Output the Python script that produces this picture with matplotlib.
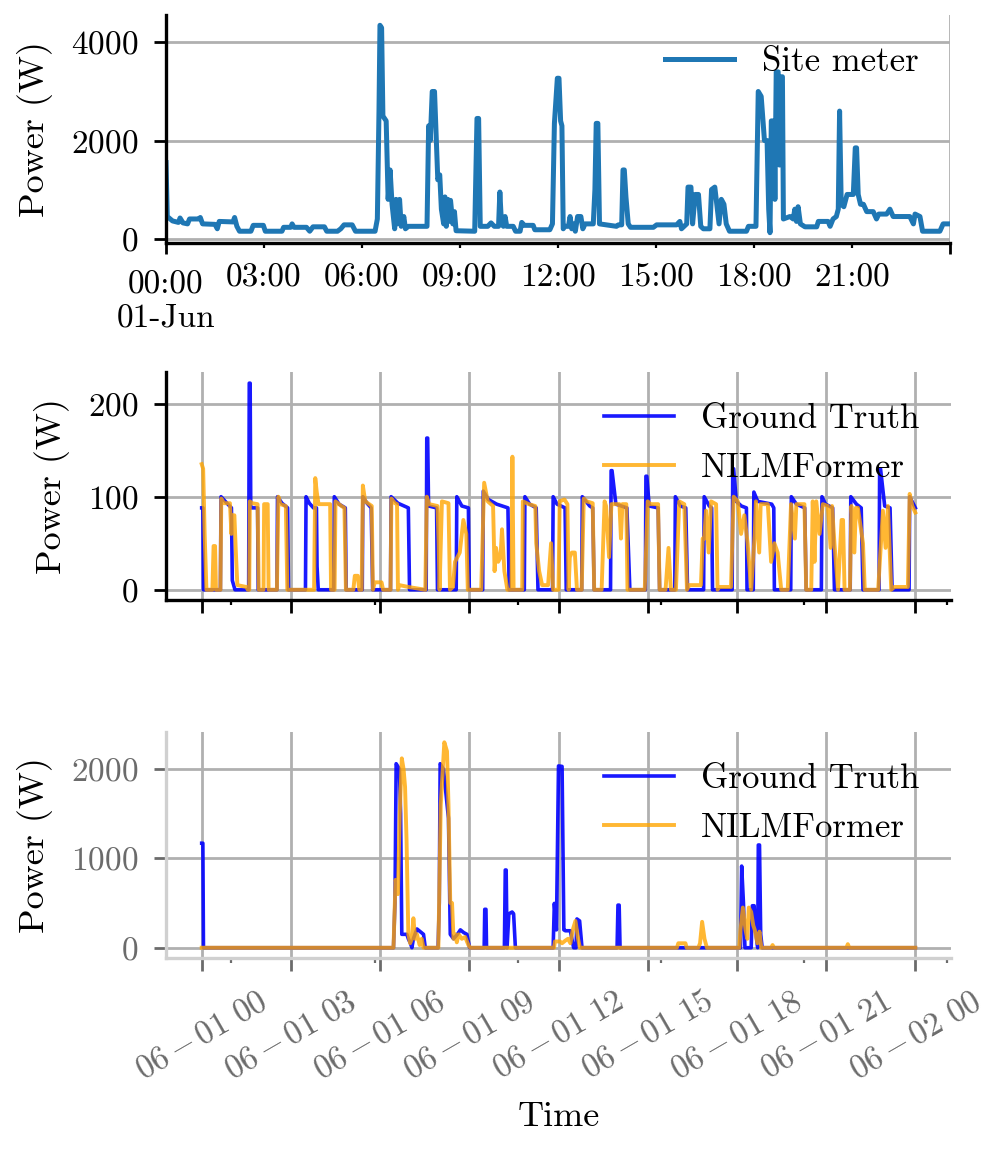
import matplotlib
matplotlib.use('Agg')
import matplotlib.pyplot as plt
from matplotlib.ticker import FixedLocator, FixedFormatter, NullFormatter

plt.rcParams['font.family'] = ['cmr10', 'DejaVu Serif']
plt.rcParams['mathtext.fontset'] = 'cm'
plt.rcParams['axes.unicode_minus'] = False
plt.rcParams['axes.formatter.use_mathtext'] = True

# ---------------- data (hours since 2016-06-01 00:00, watts) ----------------
site_hours = [0.00, 0.04, 0.20, 0.38, 0.43, 0.52, 0.66, 0.72, 1.00, 1.05, 1.12, 1.50, 1.57, 1.63, 2.05, 2.10,
              2.17, 2.25, 2.60, 2.67, 2.98, 3.04, 3.55, 3.60, 3.82, 3.86, 3.92, 4.30, 4.40, 4.50, 4.85, 4.92,
              5.25, 5.35, 5.45, 5.70, 5.80, 6.40, 6.47, 6.52, 6.55, 6.60, 6.64, 6.74, 6.80, 6.86, 6.92, 7.00,
              7.04, 7.08, 7.15, 7.20, 7.28, 7.33, 7.42, 7.99, 8.04, 8.09, 8.15, 8.22, 8.27, 8.32, 8.38, 8.43,
              8.50, 8.54, 8.58, 8.63, 8.67, 8.71, 8.78, 8.83, 8.88, 9.45, 9.52, 9.57, 9.62, 9.85, 9.95, 10.05,
              10.18, 10.22, 10.27, 10.33, 10.38, 10.43, 10.63, 10.70, 10.84, 10.89, 10.97, 11.24, 11.29, 11.75,
              11.83, 11.89, 11.98, 12.03, 12.08, 12.12, 12.16, 12.21, 12.32, 12.37, 12.42, 12.47, 12.53, 12.60,
              12.70, 12.76, 12.83, 13.08, 13.13, 13.17, 13.22, 13.27, 13.79, 13.85, 13.95, 13.99, 14.03, 14.08,
              14.15, 14.22, 14.92, 15.02, 15.63, 15.73, 15.78, 15.94, 15.98, 16.07, 16.12, 16.20, 16.30, 16.37,
              16.45, 16.65, 16.70, 16.80, 16.86, 16.93, 17.00, 17.08, 17.15, 17.25, 17.77, 17.83, 18.06, 18.13,
              18.22, 18.32, 18.40, 18.45, 18.49, 18.53, 18.61, 18.64, 18.68, 18.74, 18.78, 18.82, 18.87, 18.90,
              19.10, 19.20, 19.25, 19.30, 19.35, 19.42, 19.56, 19.92, 19.97, 20.27, 20.33, 20.42, 20.52, 20.58,
              20.62, 20.67, 20.75, 20.85, 21.04, 21.10, 21.14, 21.19, 21.26, 21.35, 21.45, 21.65, 21.75, 21.82,
              22.06, 22.16, 22.26, 22.77, 22.88, 22.93, 23.08, 23.16, 23.69, 23.79, 23.98]
site_watts = [1550, 450, 360, 330, 420, 320, 300, 400, 400, 430, 300, 290, 200, 350, 340, 430,
              250, 150, 150, 270, 270, 150, 150, 230, 230, 300, 230, 230, 150, 240, 240, 150,
              150, 200, 280, 280, 150, 150, 400, 2600, 4350, 4300, 2500, 2400, 800, 1400, 700, 200,
              800, 300, 800, 250, 450, 200, 250, 250, 2300, 2000, 3000, 3000, 2100, 1200, 1300, 600,
              300, 850, 250, 800, 350, 780, 300, 550, 160, 150, 2450, 2450, 250, 250, 320, 250,
              250, 950, 300, 250, 450, 250, 250, 150, 150, 330, 270, 270, 180, 180,
              300, 2350, 3270, 3270, 2400, 2300, 200, 250, 250, 450, 200, 300, 150, 450,
              450, 200, 300, 300, 1000, 2350, 2350, 300, 250, 280, 280, 1400, 1400, 850,
              300, 230, 230, 280, 280, 350, 200, 300, 1050, 1050, 300, 900, 900, 250,
              200, 200, 1000, 1050, 700, 300, 800, 700, 300, 150, 150, 250, 250, 3000,
              2900, 2000, 2000, 600, 120, 2400, 2400, 800, 3400, 3400, 1500, 3300, 3300, 400,
              450, 400, 600, 350, 650, 300, 240, 240, 350, 350, 250, 400, 450, 600,
              2600, 700, 650, 900, 900, 1850, 1850, 900, 700, 700, 550, 550, 400, 500,
              500, 600, 450, 450, 300, 500, 450, 150, 150, 300, 300]

fridge_gt_hours = [0.00, 0.04, 0.06, 0.63, 0.65, 0.85, 1.00, 1.03, 1.12, 1.58, 1.60, 1.63, 1.65, 1.88, 1.90,
                   2.53, 2.55, 2.70, 2.89, 2.92, 3.49, 3.51, 3.62, 3.76, 3.86, 3.88, 3.92,
                   4.44, 4.46, 4.62, 4.83, 4.86, 5.40, 5.42, 5.56, 5.70, 5.75, 6.35, 6.37, 6.60, 6.95, 6.99,
                   7.55, 7.57, 7.60, 7.63, 7.90, 7.93, 8.56, 8.58, 8.75, 8.97, 9.00,
                   9.45, 9.47, 9.64, 9.92, 10.30, 10.34, 10.85, 10.87, 11.03, 11.25, 11.31,
                   11.80, 11.82, 11.95, 12.22, 12.26, 12.78, 12.80, 13.05, 13.15, 13.20,
                   13.75, 13.77, 13.80, 13.93, 14.30, 14.40, 14.92, 14.94, 14.97, 15.05, 15.35, 15.40,
                   15.91, 15.93, 16.10, 16.28, 16.34, 16.88, 16.90, 17.07, 17.15, 17.18,
                   17.84, 17.86, 17.89, 17.98, 18.15, 18.32, 18.34, 18.55, 18.57, 18.70, 19.17, 19.24, 19.26,
                   19.81, 19.83, 20.00, 20.28, 20.33, 20.84, 20.86, 20.98, 21.22, 21.28,
                   21.81, 21.83, 22.02, 22.18, 22.24, 22.78, 22.80, 22.83, 22.97, 23.15, 23.22,
                   23.79, 23.81, 24.00]
fridge_gt_watts = [88, 88, 0, 0, 100, 93, 88, 10, 0, 0, 222, 222, 88, 88, 0,
                   0, 100, 93, 88, 0, 0, 100, 93, 88, 88, 25, 0,
                   0, 100, 92, 88, 0, 0, 100, 93, 88, 0, 0, 100, 93, 88, 0,
                   0, 163, 163, 90, 88, 0, 0, 100, 90, 88, 0,
                   0, 106, 97, 92, 88, 0, 0, 100, 92, 88, 0,
                   0, 100, 92, 88, 0, 0, 100, 90, 88, 0,
                   0, 128, 128, 92, 88, 0, 0, 122, 122, 90, 88, 0,
                   0, 100, 90, 88, 0, 0, 100, 90, 88, 0,
                   0, 130, 130, 95, 90, 88, 0, 0, 105, 95, 92, 88, 0,
                   0, 100, 92, 88, 0, 0, 100, 92, 88, 0,
                   0, 100, 92, 88, 0, 0, 130, 130, 90, 88, 0,
                   0, 100, 88]

fridge_nf_hours = [0.00, 0.05, 0.10, 0.16, 0.36, 0.40, 0.45, 0.48, 0.63, 0.66, 0.75, 0.95, 1.00, 1.03, 1.10,
                   1.15, 1.20, 1.50, 1.55, 1.60, 1.62, 1.70, 1.88, 1.92, 2.08, 2.10, 2.22, 2.25,
                   2.53, 2.58, 2.65, 2.83, 2.88, 3.78, 3.82, 3.87, 3.93, 4.32, 4.35,
                   4.47, 4.50, 4.70, 4.80, 4.85, 5.10, 5.15, 5.25, 5.30, 5.38, 5.42, 5.50, 5.72, 5.76,
                   5.82, 6.05, 6.10, 6.35, 6.38, 6.50, 6.57, 6.60, 6.65, 6.95, 7.52, 7.57, 7.65, 7.93,
                   7.97, 8.00, 8.08, 8.30, 8.35, 8.45, 8.52, 8.68, 8.80, 8.90, 8.95,
                   9.40, 9.50, 9.62, 9.80, 9.85, 9.90, 9.97, 10.05, 10.10, 10.18, 10.28, 10.42, 10.45, 10.49,
                   10.78, 10.80, 11.00, 11.22, 11.25, 11.35, 11.45, 11.65, 11.75, 11.82,
                   12.00, 12.04, 12.20, 12.30, 12.34, 12.38, 12.45, 12.55, 12.62,
                   12.78, 12.85, 12.95, 13.15, 13.20, 13.45, 13.55, 13.60, 13.70, 13.78, 14.05, 14.10, 14.15,
                   14.28, 14.32, 14.90, 15.00, 15.10, 15.35, 15.40, 15.60, 15.70, 15.78, 15.95,
                   16.06, 16.23, 16.32, 16.40, 16.79, 16.85, 16.90, 16.96, 17.05, 17.13, 17.30, 17.35,
                   17.41, 17.80, 17.89, 18.03, 18.14, 18.25, 18.36, 18.48, 18.60, 18.64, 18.75, 18.80,
                   18.87, 19.04, 19.15, 19.26, 19.37, 19.49, 19.71, 19.82, 19.95, 20.00, 20.05, 20.27, 20.33,
                   20.50, 20.55, 20.61, 20.67, 20.78, 20.89, 21.06, 21.15, 21.20, 21.28, 21.40, 21.52, 21.57,
                   21.62, 21.80, 21.85, 21.95, 22.00, 22.07, 22.24, 22.30, 22.75, 22.91, 23.00, 23.08, 23.19,
                   23.30, 23.75, 23.81, 23.90, 24.00]
fridge_nf_watts = [135, 130, 60, 0, 0, 47, 47, 0, 0, 98, 93, 93, 60, 80, 80,
                   40, 5, 3, 0, 0, 95, 93, 92, 0, 0, 92, 92, 0,
                   0, 100, 92, 90, 0, 0, 120, 105, 92, 92, 0,
                   0, 95, 90, 88, 0, 0, 15, 15, 0, 0, 112, 95, 90, 0,
                   8, 8, 0, 0, 98, 93, 92, 0, 5, 3, 0, 100, 92, 90,
                   50, 0, 95, 93, 0, 3, 30, 40, 75, 60, 0,
                   0, 115, 95, 90, 20, 45, 30, 35, 65, 20, 0, 0, 143, 0,
                   0, 95, 92, 90, 50, 20, 5, 5, 50, 0,
                   0, 95, 97, 92, 0, 35, 40, 40, 0,
                   0, 98, 95, 93, 0, 0, 95, 90, 35, 92, 92, 55, 92,
                   92, 0, 0, 95, 92, 92, 0, 0, 45, 0, 0,
                   95, 92, 0, 5, 5, 55, 55, 85, 40, 95, 92, 0,
                   3, 3, 100, 95, 60, 80, 50, 0, 60, 95, 40, 92,
                   92, 92, 30, 50, 40, 0, 0, 92, 55, 92, 92, 92, 0,
                   0, 95, 30, 95, 60, 92, 90, 45, 90, 50, 0, 75, 75,
                   0, 0, 90, 40, 88, 88, 50, 0, 0, 85, 45, 90, 0,
                   3, 3, 103, 90, 83]

wash_gt_hours = [0.00, 0.04, 0.06, 6.45, 6.50, 6.54, 6.65, 6.69, 6.73, 6.90, 6.95, 7.02, 7.07, 7.12, 7.24,
                 7.35, 7.46, 7.52, 7.95, 7.99, 8.02, 8.13, 8.30, 8.36, 8.47, 8.60, 8.70, 8.81, 8.92, 9.01,
                 9.50, 9.52, 9.56, 9.58, 10.18, 10.21, 10.24, 10.27, 10.33, 10.44, 10.49, 10.55,
                 11.82, 11.86, 11.93, 12.00, 12.12, 12.18, 12.23, 12.40, 12.46, 12.51, 12.59, 12.62, 12.71, 12.79,
                 13.97, 14.00, 14.04, 14.07, 18.12, 18.16, 18.22, 18.27, 18.48, 18.52, 18.58, 18.62, 18.70,
                 18.72, 18.76, 18.80, 18.85, 24.00]
wash_gt_watts = [1170, 1170, 0, 0, 500, 2060, 2000, 1500, 150, 150, 100, 50, 0, 100, 210,
                 180, 150, 0, 0, 500, 2060, 2000, 1450, 150, 100, 150, 200, 170, 150, 0,
                 0, 430, 430, 0, 0, 870, 870, 0, 380, 400, 380, 0,
                 0, 496, 200, 2035, 2030, 200, 190, 190, 80, 0, 0, 322, 300, 0,
                 0, 477, 477, 0, 0, 914, 500, 0, 0, 470, 470, 200, 0,
                 1150, 1150, 150, 0, 0]

wash_nf_hours = [0.00, 6.45, 6.52, 6.60, 6.66, 6.73, 6.79, 6.84, 6.89, 6.95, 7.01, 7.07, 7.12, 7.18, 7.24,
                 7.33, 7.40, 7.46, 7.96, 8.04, 8.16, 8.25, 8.30, 8.36, 8.42, 8.47, 8.53, 8.58, 8.64, 8.75,
                 8.86, 8.97, 9.03, 11.85, 11.88, 12.05, 12.12, 12.23, 12.32, 12.40, 12.48, 12.57, 12.66, 12.72,
                 15.98, 16.03, 16.27, 16.31, 16.70, 16.76, 16.83, 16.91, 16.99, 18.08, 18.12, 18.20, 18.29,
                 18.35, 18.40, 18.48, 18.55, 18.60, 18.69, 18.76, 18.82, 19.15, 19.20, 19.25,
                 21.68, 21.73, 21.78, 24.00]
wash_nf_watts = [0, 0, 760, 600, 1500, 2120, 2000, 1800, 1200, 150, 50, 100, 330, 100, 150,
                 30, 100, 0, 0, 1600, 2300, 2200, 1600, 500, 500, 100, 150, 60, 150, 100,
                 120, 30, 0, 0, 70, 70, 50, 80, 100, 50, 200, 300, 100, 0,
                 0, 50, 50, 0, 0, 50, 290, 100, 0, 0, 200, 450, 200,
                 100, 450, 400, 250, 200, 50, 180, 0, 0, 30, 0,
                 0, 40, 0, 0]

top_major_hours = [0, 24]
top_major_labels = ['00:00\n01-Jun', '']
top_minor_hours = [3, 6, 9, 12, 15, 18, 21]
top_minor_labels = ['03:00', '06:00', '09:00', '12:00', '15:00', '18:00', '21:00']
date_tick_hours = [0, 3, 6, 9, 12, 15, 18, 21, 24]
date_tick_labels = [r'$\mathrm{06}\,{-}\,\mathrm{01\ 00}$', r'$\mathrm{06}\,{-}\,\mathrm{01\ 03}$',
                    r'$\mathrm{06}\,{-}\,\mathrm{01\ 06}$', r'$\mathrm{06}\,{-}\,\mathrm{01\ 09}$',
                    r'$\mathrm{06}\,{-}\,\mathrm{01\ 12}$', r'$\mathrm{06}\,{-}\,\mathrm{01\ 15}$',
                    r'$\mathrm{06}\,{-}\,\mathrm{01\ 18}$', r'$\mathrm{06}\,{-}\,\mathrm{01\ 21}$',
                    r'$\mathrm{06}\,{-}\,\mathrm{02\ 00}$']
date_minor_hours = [1.0, 5.83, 10.63, 15.44, 20.25, 25.05]

# ---------------- figure ----------------
W, H = 1001, 1149
fig = plt.figure(figsize=(W / 100, H / 100), dpi=100)

def axes_px(left, top, right, bottom):
    return fig.add_axes([left / W, 1 - bottom / H, (right - left) / W, (bottom - top) / H])

TICK_FS = 24
LAB_FS = 26
LEG_FS = 25
PAD = 11.5
LPAD = 13
GRID_KW = dict(color='#b0b0b0', linewidth=2.0)
GRAY = '#6b6b6b'

# ---- top panel: site meter ----
ax1 = axes_px(166, 15, 950, 243)
ax1.plot(site_hours, site_watts, color='#1f77b4', linewidth=3.6, label='Site meter')
ax1.set_xlim(0, 24)
ax1.set_ylim(-90, 4560)
ax1.set_yticks([0, 2000, 4000])
ax1.xaxis.set_major_locator(FixedLocator(top_major_hours))
ax1.xaxis.set_major_formatter(FixedFormatter(top_major_labels))
ax1.xaxis.set_minor_locator(FixedLocator(top_minor_hours))
ax1.xaxis.set_minor_formatter(FixedFormatter(top_minor_labels))
ax1.grid(True, which='major', axis='both', **GRID_KW)
ax1.set_axisbelow(True)
for s in ['top', 'right']:
    ax1.spines[s].set_visible(False)
for s in ['left', 'bottom']:
    ax1.spines[s].set_linewidth(2.4)
ax1.tick_params(axis='y', which='major', length=8.5, width=2.0, labelsize=TICK_FS, pad=PAD)
ax1.tick_params(axis='x', which='major', length=8, width=2.0, labelsize=TICK_FS, pad=PAD)
ax1.tick_params(axis='x', which='minor', length=3.5, width=1.6, labelsize=TICK_FS, pad=PAD)
ax1.set_ylabel('Power (W)', fontsize=LAB_FS, labelpad=LPAD)
ax1.legend(loc='upper right', frameon=False, fontsize=LEG_FS, handlelength=2.0)

# ---- middle panel: fridge ----
ax2 = axes_px(166, 372, 951, 600)
ax2.plot(fridge_gt_hours, fridge_gt_watts, color='blue', alpha=0.9, linewidth=2.6, label='Ground Truth')
ax2.plot(fridge_nf_hours, fridge_nf_watts, color='orange', alpha=0.8, linewidth=2.8, label='NILMFormer')
ax2.set_xlim(-1.2, 25.2)
ax2.set_ylim(-11, 234)
ax2.set_yticks([0, 100, 200])
ax2.xaxis.set_major_locator(FixedLocator(date_tick_hours))
ax2.xaxis.set_minor_locator(FixedLocator(date_minor_hours))
ax2.xaxis.set_minor_formatter(NullFormatter())
ax2.grid(True, which='major', **GRID_KW)
ax2.set_axisbelow(True)
for s in ['top', 'right']:
    ax2.spines[s].set_visible(False)
for s in ['left', 'bottom']:
    ax2.spines[s].set_linewidth(2.4)
ax2.tick_params(axis='y', which='major', length=8.5, width=2.0, labelsize=TICK_FS, pad=PAD)
ax2.tick_params(axis='x', which='major', length=9, width=2.0, labelbottom=False)
ax2.tick_params(axis='x', which='minor', length=3.5, width=1.6)
ax2.set_ylabel('Power (W)', fontsize=LAB_FS, labelpad=LPAD)
ax2.legend(loc='upper right', frameon=False, fontsize=LEG_FS, handlelength=2.0)

# ---- bottom panel: washing machine ----
ax3 = axes_px(166, 732, 951, 958)
ax3.plot(wash_gt_hours, wash_gt_watts, color='blue', alpha=0.9, linewidth=2.6, label='Ground Truth')
ax3.plot(wash_nf_hours, wash_nf_watts, color='orange', alpha=0.8, linewidth=2.8, label='NILMFormer')
ax3.set_xlim(-1.2, 25.2)
ax3.set_ylim(-115, 2415)
ax3.set_yticks([0, 1000, 2000])
ax3.xaxis.set_major_locator(FixedLocator(date_tick_hours))
ax3.xaxis.set_major_formatter(FixedFormatter(date_tick_labels))
ax3.xaxis.set_minor_locator(FixedLocator(date_minor_hours))
ax3.xaxis.set_minor_formatter(NullFormatter())
ax3.grid(True, which='major', **GRID_KW)
ax3.set_axisbelow(True)
for s in ['top', 'right']:
    ax3.spines[s].set_visible(False)
for s in ['left', 'bottom']:
    ax3.spines[s].set_linewidth(2.4)
    ax3.spines[s].set_color('#d0d0d0')
ax3.tick_params(axis='y', which='major', length=8.5, width=2.0, labelsize=TICK_FS,
                color=GRAY, labelcolor=GRAY, pad=PAD)
ax3.tick_params(axis='x', which='major', length=9, width=2.0, labelsize=TICK_FS,
                color=GRAY, labelcolor=GRAY, pad=PAD)
ax3.tick_params(axis='x', which='minor', length=3.5, width=1.6, color=GRAY)
for lab in ax3.get_xticklabels():
    lab.set_rotation(30)
    lab.set_ha('center')
ax3.set_ylabel('Power (W)', fontsize=LAB_FS, labelpad=LPAD)
ax3.set_xlabel('Time', fontsize=LAB_FS, labelpad=12)
ax3.legend(loc='upper right', frameon=False, fontsize=LEG_FS, handlelength=2.0)

fig.savefig('out.png', dpi=100)
